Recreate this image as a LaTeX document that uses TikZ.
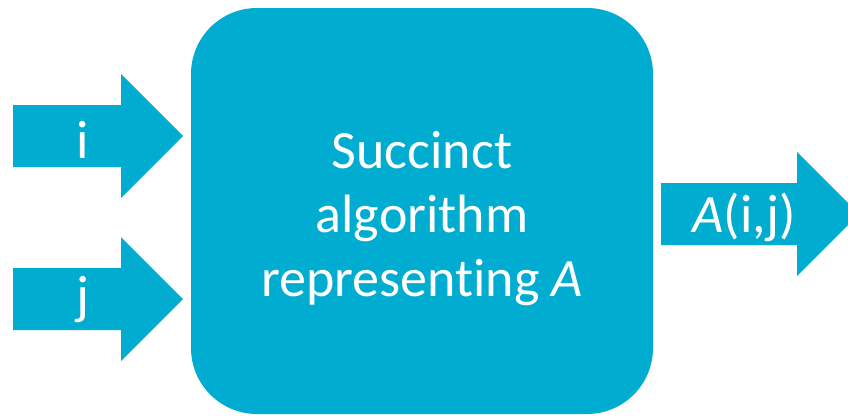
\documentclass[tikz,border=0pt]{standalone}
\usepackage{fontspec}
\setmainfont{Carlito}[Ligatures=NoCommon]
\usepackage{tikz}
\usetikzlibrary{calc}
\definecolor{tealblue}{RGB}{0,173,208}

\begin{document}
\begin{tikzpicture}[
    x=1pt, y=-1pt,
    blockFill/.style={fill=tealblue, draw=none},
    algoBox/.style={blockFill, minimum width=462pt, minimum height=406pt, rounded corners=66pt},
    whiteText/.style={text=white, font=\fontsize{54}{64}\selectfont, inner sep=0pt},
    every node/.style={
        text centered,
        }
        ]
    \useasboundingbox (0,0) rectangle (848,415);

    \node[algoBox] (algo) at (422,211) {};
    \node[whiteText, align=center] (desc) at (422,219) {Succinct\\algorithm\\representing \textit{A}};

    \coordinate (tipI) at (183,136);
    \coordinate (tipJ) at (183,299);
    \coordinate (tipOut) at (859,214);

    \fill[blockFill] (tipI) -- ++(-62,-62) -- ++(0,31) -- ++(-108,0) -- ++(0,62) -- ++(108,0) -- ++(0,31) -- cycle;
    \fill[blockFill] (tipJ) -- ++(-62,-62) -- ++(0,31) -- ++(-108,0) -- ++(0,62) -- ++(108,0) -- ++(0,31) -- cycle;
    \fill[blockFill] (tipOut) -- ++(-62,-62) -- ++(0,31) -- ++(-136,0) -- ++(0,62) -- ++(136,0) -- ++(0,31) -- cycle;

    \node[whiteText] (inI) at (83,140) {i};
    \node[whiteText] (inJ) at (83,300) {j};
    \node[whiteText] (outA) at (744,217) {\textit{A}(i,j)};
\end{tikzpicture}
\end{document}
